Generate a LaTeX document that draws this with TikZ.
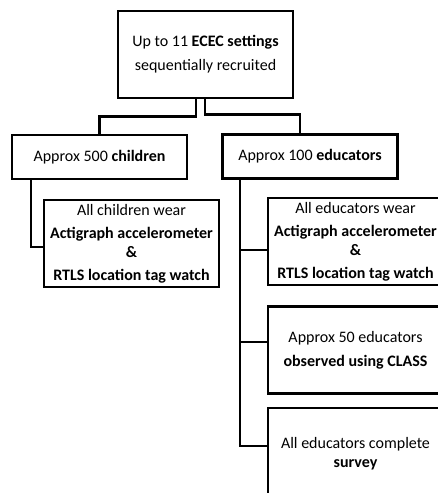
\documentclass[tikz,border=0pt]{standalone}
\usepackage{fontspec}
\setmainfont{Carlito}
\begin{document}
\begin{tikzpicture}[x=1pt,y=-1pt]
\tikzset{box/.style = {draw, line width=2.5pt, minimum width=175pt, minimum height=87pt, inner sep=0pt, align=center, font=\fontsize{16}{24}\selectfont},
link/.style = {line width=2.5pt}}
\useasboundingbox (0,0) rectangle (438,493);
\clip (0,0) rectangle (438,493);
\node[box] (settings) at (205.5,54.5) {Up to 11 \textbf{ECEC settings}\\sequentially recruited};
\node[box, minimum height=44pt] (children) at (99.5,157) {Approx 500 \textbf{children}};
\node[box, minimum height=44pt] (educators) at (310,156.5) {Approx 100 \textbf{educators}};
\node[box] (childwear) at (131.5,243.5) {All children wear\\[-1pt]\textbf{Actigraph accelerometer}\\[-5pt]\textbf{\&}\\[-1pt]\textbf{RTLS location tag watch}};
\node[box] (eduwear) at (355.5,241.5) {All educators wear\\[-1pt]\textbf{Actigraph accelerometer}\\[-5pt]\textbf{\&}\\[-1pt]\textbf{RTLS location tag watch}};
\node[box] (observed) at (355.5,350) {Approx 50 educators\\\textbf{observed using CLASS}};
\node[box, minimum height=92pt] (survey) at (355.5,454) {All educators complete\\[-5pt]\textbf{survey}};
\draw[link] ([xshift=-9.5pt]settings.south) -- ++(0,17) -| (children.north);
\draw[link] ([xshift=-0.5pt]settings.south) -- ++(0,15) -| ([xshift=-10pt]educators.north);
\draw[link] ([xshift=-68.5pt]children.south) |- ([yshift=-3.5pt]childwear.west);
\draw[link] ([xshift=-70pt]educators.south) |- ([yshift=8pt]survey.west);
\draw[link] ([xshift=-70pt]educators.south) |- ([yshift=-8.5pt]eduwear.west);
\draw[link] ([xshift=-70pt]educators.south) |- ([yshift=8pt]observed.west);
\end{tikzpicture}
\end{document}
